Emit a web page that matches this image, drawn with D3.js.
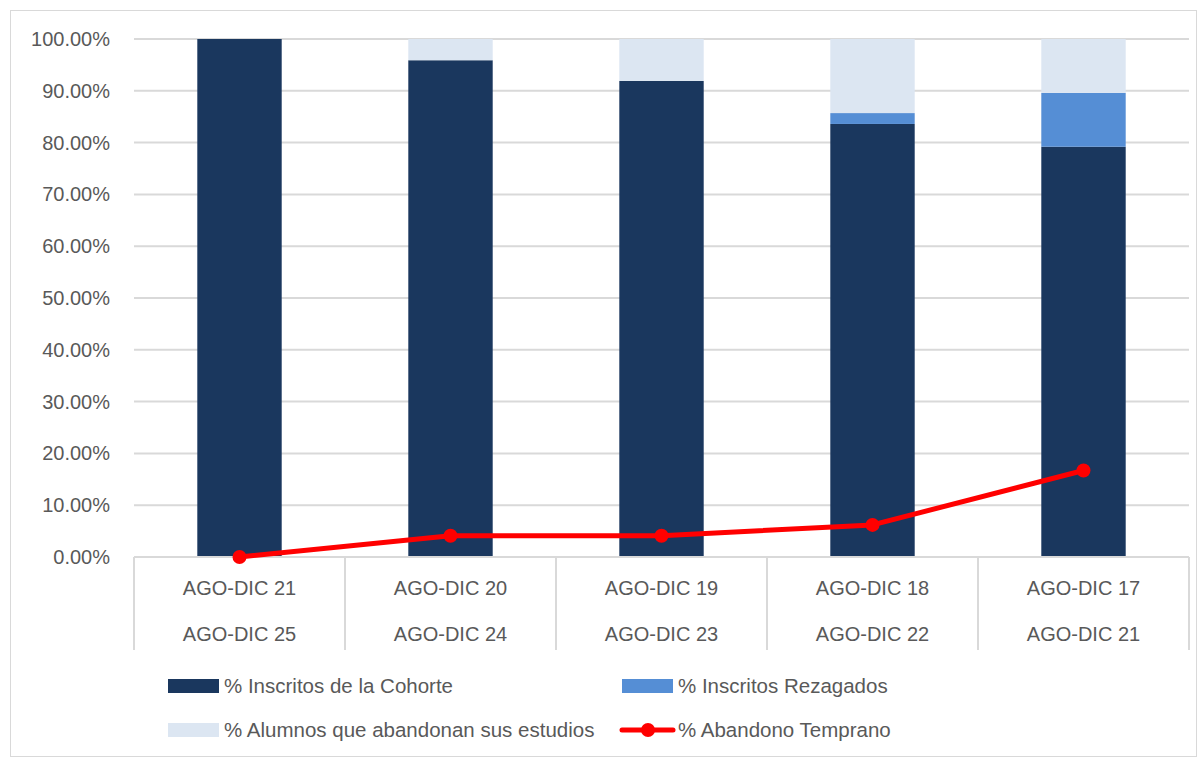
<!DOCTYPE html>
<html>
<head>
<meta charset="utf-8">
<script src="https://cdn.jsdelivr.net/npm/d3@7"></script>
<style>
  body { margin: 0; background: #fff; }
  text { font-family: "Liberation Sans", "Noto Sans", sans-serif; fill: #595959; }
</style>
</head>
<body>
<svg id="chart" width="1199" height="760"></svg>
<script>
  const periods = ["AGO-DIC 21", "AGO-DIC 20", "AGO-DIC 19", "AGO-DIC 18", "AGO-DIC 17"];
  const periodsEnd = ["AGO-DIC 25", "AGO-DIC 24", "AGO-DIC 23", "AGO-DIC 22", "AGO-DIC 21"];
  const cohorte = [100, 95.9, 91.9, 83.6, 79.2];
  const rezagados = [0, 0, 0, 2.1, 10.4];
  const abandonan = [0, 4.1, 8.1, 14.3, 10.4];
  const abandonoTemprano = [0, 4.1, 4.1, 6.2, 16.7];
  const yTicks = [0, 10, 20, 30, 40, 50, 60, 70, 80, 90, 100];

  const seriesNames = ["% Inscritos de la Cohorte", "% Inscritos Rezagados", "% Alumnos que abandonan sus estudios"];
  const seriesColors = ["#1a375e", "#558ed5", "#dce6f2"];
  const lineName = "% Abandono Temprano";
  const lineColor = "#ff0000";

  const svg = d3.select("#chart");
  // chart border
  svg.append("rect")
    .attr("x", 10.5).attr("y", 10.5)
    .attr("width", 1186).attr("height", 746)
    .attr("fill", "none").attr("stroke", "#d9d9d9");

  const plotLeft = 134, plotRight = 1189, plotTop = 39, plotBottom = 557;

  const x = d3.scaleBand().domain(periods).range([plotLeft, plotRight]).paddingInner(0.6).paddingOuter(0.3);
  const xBand = d3.scaleBand().domain(periods).range([plotLeft, plotRight]);
  const y = d3.scaleLinear().domain([0, 100]).range([plotBottom, plotTop]);

  // gridlines
  svg.append("g")
    .selectAll("line")
    .data(yTicks)
    .join("line")
    .attr("x1", plotLeft).attr("x2", plotRight)
    .attr("y1", (d) => y(d)).attr("y2", (d) => y(d))
    .attr("stroke", "#d9d9d9").attr("stroke-width", 2);

  // y labels
  const yAxis = d3.axisLeft(y).tickValues(yTicks).tickSize(0).tickPadding(0)
    .tickFormat((d) => d.toFixed(2) + "%");
  const gy = svg.append("g").attr("transform", `translate(${plotLeft - 24},0)`).call(yAxis);
  gy.select(".domain").remove();
  gy.attr("font-family", null);
  gy.selectAll("text").attr("font-size", 20).attr("fill", "#595959");

  // stacked bars
  const rows = periods.map((p, i) => ({ period: p, s0: cohorte[i], s1: rezagados[i], s2: abandonan[i] }));
  const stack = d3.stack().keys(["s0", "s1", "s2"]);
  const stacked = stack(rows);
  svg.append("g")
    .selectAll("g")
    .data(stacked)
    .join("g")
    .attr("fill", (d, i) => seriesColors[i])
    .selectAll("rect")
    .data((d) => d)
    .join("rect")
    .attr("x", (d) => x(d.data.period))
    .attr("width", x.bandwidth())
    .attr("y", (d) => y(Math.min(d[1], 100)))
    .attr("height", (d) => y(d[0]) - y(Math.min(d[1], 100)));

  // category axis with boundary lines
  const axisBottom = 650;
  const gx = svg.append("g");
  gx.selectAll("line.sep")
    .data(d3.range(periods.length + 1))
    .join("line")
    .attr("class", "sep")
    .attr("x1", (i) => plotLeft + i * xBand.step())
    .attr("x2", (i) => plotLeft + i * xBand.step())
    .attr("y1", plotBottom).attr("y2", axisBottom)
    .attr("stroke", "#d9d9d9").attr("stroke-width", 2);
  gx.append("line")
    .attr("x1", plotLeft).attr("x2", plotRight)
    .attr("y1", plotBottom).attr("y2", plotBottom)
    .attr("stroke", "#d9d9d9").attr("stroke-width", 2);
  gx.selectAll("text.l1")
    .data(periods)
    .join("text")
    .attr("class", "l1")
    .attr("x", (d) => xBand(d) + xBand.bandwidth() / 2)
    .attr("y", 595)
    .attr("text-anchor", "middle")
    .attr("font-size", 20)
    .text((d) => d);
  gx.selectAll("text.l2")
    .data(periodsEnd)
    .join("text")
    .attr("class", "l2")
    .attr("x", (d, i) => xBand(periods[i]) + xBand.bandwidth() / 2)
    .attr("y", 641)
    .attr("text-anchor", "middle")
    .attr("font-size", 20)
    .text((d) => d);

  // line series
  const cx = (i) => xBand(periods[i]) + xBand.bandwidth() / 2;
  const line = d3.line().x((d, i) => cx(i)).y((d) => y(d));
  svg.append("path")
    .datum(abandonoTemprano)
    .attr("fill", "none")
    .attr("stroke", lineColor)
    .attr("stroke-width", 5)
    .attr("stroke-linejoin", "round")
    .attr("d", line);
  svg.append("g")
    .selectAll("circle")
    .data(abandonoTemprano)
    .join("circle")
    .attr("cx", (d, i) => cx(i))
    .attr("cy", (d) => y(d))
    .attr("r", 7)
    .attr("fill", lineColor);

  // legend
  const legend = svg.append("g");
  const legendItems = [
    { name: seriesNames[0], color: seriesColors[0], type: "rect", x: 168, y: 686 },
    { name: seriesNames[1], color: seriesColors[1], type: "rect", x: 622, y: 686 },
    { name: seriesNames[2], color: seriesColors[2], type: "rect", x: 168, y: 730 },
    { name: lineName, color: lineColor, type: "line", x: 622, y: 730 },
  ];
  legendItems.forEach((it) => {
    if (it.type === "rect") {
      legend.append("rect")
        .attr("x", it.x).attr("y", it.y - 7)
        .attr("width", 51).attr("height", 14)
        .attr("fill", it.color);
    } else {
      legend.append("line")
        .attr("x1", it.x).attr("x2", it.x + 51)
        .attr("y1", it.y).attr("y2", it.y)
        .attr("stroke", it.color).attr("stroke-width", 5).attr("stroke-linecap", "round");
      legend.append("circle")
        .attr("cx", it.x + 26).attr("cy", it.y).attr("r", 7).attr("fill", it.color);
    }
    legend.append("text")
      .attr("x", it.x + 56).attr("y", it.y + 7)
      .attr("font-size", 20.5)
      .text(it.name);
  });
</script>
</body>
</html>
